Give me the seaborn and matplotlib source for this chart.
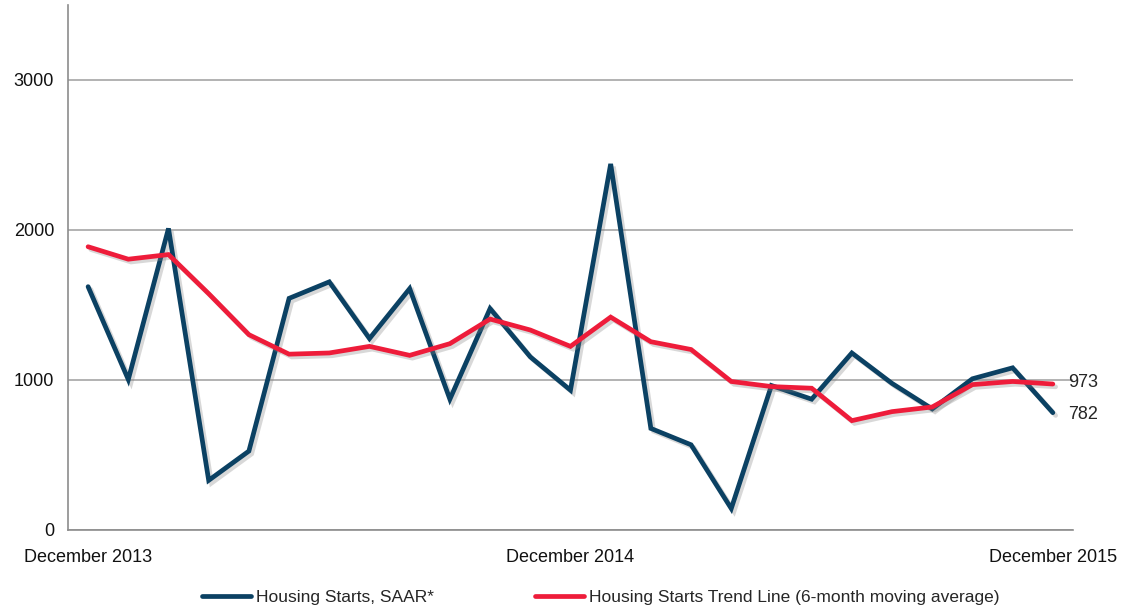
import pandas as pd
import numpy as np
import matplotlib.pyplot as plt
import matplotlib.patheffects as pe
import seaborn as sns

# monthly housing starts, Dec 2013 .. Dec 2015
starts = [1622, 1003, 2010, 331, 526, 1544, 1654, 1276, 1609, 872, 1476, 1154, 932,
          2440, 677, 568, 143, 963, 872, 1180, 977, 807, 1008, 1081, 782]
trend = [1888, 1805, 1836, 1575, 1302, 1172, 1180, 1224, 1164, 1242, 1406, 1333, 1224,
         1419, 1255, 1203, 990, 956, 945, 729, 789, 820, 969, 990, 973]
tick_labels = ["December 2013", "December 2014", "December 2015"]
tick_pos = [0, 12, 24]
y_ticks = [0, 1000, 2000, 3000]

BLUE = "#0b4163"
RED = "#ee1c3a"

sns.set_theme(style="white")
plt.rcParams["font.family"] = ["Liberation Sans", "DejaVu Sans"]

df = pd.DataFrame({
    "month": list(range(len(starts))) * 2,
    "value": starts + trend,
    "series": ["Housing Starts, SAAR*"] * len(starts)
              + ["Housing Starts Trend Line (6-month moving average)"] * len(trend),
})

fig = plt.figure(figsize=(11.39, 6.13), dpi=100)
ax = fig.add_axes([0.0597, 0.1354, 0.8823, 0.8566])

shadow = [pe.SimpleLineShadow(offset=(2, -2), shadow_color="gray", alpha=0.3), pe.Normal()]
sns.lineplot(data=df, x="month", y="value", hue="series",
             palette=[BLUE, RED], linewidth=3.4, ax=ax, legend=False)
for line in ax.lines:
    line.set_path_effects(shadow)
    line.set_solid_joinstyle("miter")

ax.set_xlim(-0.5, 24.5)
ax.set_ylim(0, 3500)
ax.set_yticks(y_ticks)
ax.set_xticks(tick_pos)
ax.set_xticklabels(tick_labels)
ax.tick_params(axis="both", length=0, labelsize=13, colors="#111111")
ax.tick_params(axis="x", pad=14)
ax.tick_params(axis="y", pad=10)
ax.set_xlabel("")
ax.set_ylabel("")
ax.yaxis.grid(True, color="#a6a6a6", linewidth=1.2)
ax.set_axisbelow(True)
for s in ["top", "right"]:
    ax.spines[s].set_visible(False)
for s in ["left", "bottom"]:
    ax.spines[s].set_color("#8c8c8c")
    ax.spines[s].set_linewidth(1.2)

# end-point labels
ax.annotate(f"{trend[-1]}", (len(trend) - 1, trend[-1]), xytext=(11, 1),
            textcoords="offset points", va="center", ha="left", fontsize=13)
ax.annotate(f"{starts[-1]}", (len(starts) - 1, starts[-1]), xytext=(11, -1),
            textcoords="offset points", va="center", ha="left", fontsize=13)

handles = [plt.Line2D([], [], color=BLUE, linewidth=3.4),
           plt.Line2D([], [], color=RED, linewidth=3.4)]
fig.legend(handles, df["series"].unique(), loc="lower center", ncol=2,
           frameon=False, fontsize=12.5, handlelength=2.8, handletextpad=0.3,
           columnspacing=5.8, bbox_to_anchor=(0.5275, -0.013))

fig.savefig("out.png", dpi=100)
